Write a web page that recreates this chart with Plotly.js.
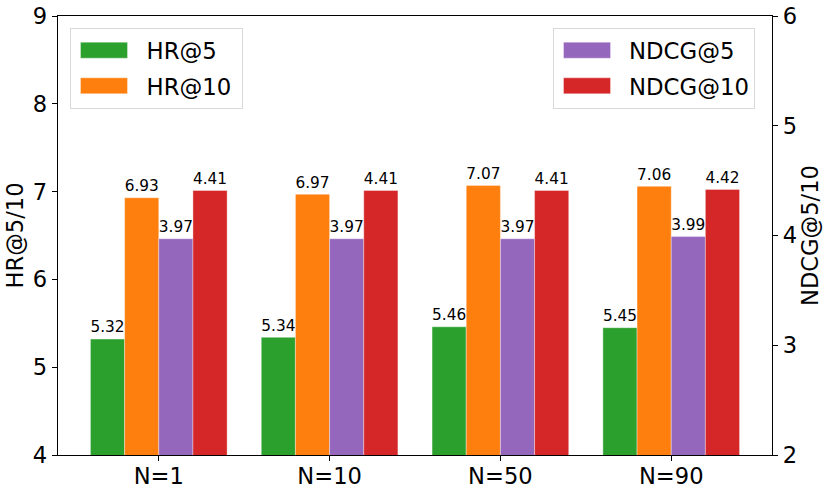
<!DOCTYPE html>
<html>
<head>
<meta charset="utf-8">
<script src="https://cdn.plot.ly/plotly-3.0.1.min.js"></script>
<style>html,body{margin:0;padding:0;background:#fff;}#chart{width:831px;height:495px;}</style>
</head>
<body>
<div id="chart"></div>
<script>
const categories = ["N=1", "N=10", "N=50", "N=90"];
const hr5 = [5.32, 5.34, 5.46, 5.45];
const hr10 = [6.93, 6.97, 7.07, 7.06];
const ndcg5 = [3.97, 3.97, 3.97, 3.99];
const ndcg10 = [4.41, 4.41, 4.41, 4.42];
const leftTicks = [4, 5, 6, 7, 8, 9];
const rightTicks = [2, 3, 4, 5, 6];

const xIdx = categories.map((_, i) => i);
const FONT = "DejaVu Sans, sans-serif";

function mk(name, vals, color, offset, yaxis, legend) {
  return {
    type: "bar", name: name, x: xIdx, y: vals, yaxis: yaxis, legend: legend,
    legendgroup: name,
    width: 0.2, offset: offset,
    marker: {color: color, line: {color: "rgba(255,255,255,0.6)", width: 0.6}},
    text: vals.map(v => v.toFixed(2)), textposition: "outside",
    textfont: {family: FONT, size: 17, color: "#000"}, cliponaxis: false,
    hoverinfo: "skip"
  };
}

const data = [
  mk("HR@5", hr5, "#2ca02c", -0.4, "y", "legend"),
  mk("HR@10", hr10, "#ff7f0e", -0.2, "y", "legend"),
  mk("NDCG@5", ndcg5, "#9467bd", 0.0, "y2", "legend2"),
  mk("NDCG@10", ndcg10, "#d62728", 0.2, "y2", "legend2")
];

const legendBase = {
  bgcolor: "rgba(255,255,255,0.8)", bordercolor: "#d9d9d9", borderwidth: 1,
  font: {family: FONT, size: 22.8, color: "#000"}, itemwidth: 65,
  tracegroupgap: 3, yanchor: "top", xanchor: "left"
};

const axisFont = {family: FONT, size: 22.6, color: "#000"};

const layout = {
  width: 831, height: 495,
  margin: {l: 58, r: 59, t: 16, b: 40},
  paper_bgcolor: "#fff", plot_bgcolor: "#fff",
  barmode: "overlay", showlegend: true,
  font: {family: FONT, color: "#000"},
  xaxis: {
    range: [-0.59, 3.59], tickmode: "array", tickvals: xIdx, ticktext: categories,
    showline: true, linecolor: "#000", linewidth: 1.3, mirror: true,
    ticks: "outside", ticklen: 5, tickcolor: "#000", showgrid: false, zeroline: false,
    tickfont: axisFont, ticklabelstandoff: -4
  },
  yaxis: {
    range: [4, 9], tickmode: "array", tickvals: leftTicks,
    showline: true, linecolor: "#000", linewidth: 1.3,
    ticks: "outside", ticklen: 5, tickcolor: "#000", showgrid: false, zeroline: false,
    tickfont: axisFont,
    title: {text: "HR@5/10", font: axisFont, standoff: 3}
  },
  yaxis2: {
    range: [2, 6], tickmode: "array", tickvals: rightTicks, overlaying: "y", side: "right",
    showline: true, linecolor: "#000", linewidth: 1.3,
    ticks: "outside", ticklen: 5, tickcolor: "#000", showgrid: false, zeroline: false,
    tickfont: axisFont,
    title: {text: "NDCG@5/10", font: axisFont, standoff: 3}
  },
  legend: Object.assign({}, legendBase, {x: 0.0168, y: 0.973}),
  legend2: Object.assign({}, legendBase, {x: 0.6933, y: 0.973})
};

Plotly.newPlot("chart", data, layout, {staticPlot: true, displayModeBar: false}).then(() => {
  // matplotlib-style wide legend patches and box sizing
  ["legend", "legend2"].forEach(id => {
    const lg = document.querySelector("g." + id);
    if (!lg) return;
    const bg = lg.querySelector("rect.bg");
    if (!bg) return;
    const bgBox = bg.getBoundingClientRect();
    let maxRight = 0;
    lg.querySelectorAll("g.traces").forEach(tr => {
      const path = tr.querySelector(".legendpoints path");
      if (path) {
        path.setAttribute("d", "M-23.5,8H23.5V-8H-23.5Z");
        const pb = path.getBoundingClientRect();
        const cx = (pb.left + pb.right) / 2;
        const dx = bgBox.left + 33.5 - cx;
        const old = path.getAttribute("transform") || "";
        path.setAttribute("transform", old + " translate(" + dx + ",0)");
      }
      const txt = tr.querySelector("text.legendtext");
      if (txt) {
        const tb = txt.getBoundingClientRect();
        const dx = bgBox.left + 76 - tb.left;
        const old = txt.getAttribute("transform") || "";
        txt.setAttribute("transform", old + " translate(" + dx + ",0)");
        const nb = txt.getBoundingClientRect();
        maxRight = Math.max(maxRight, nb.right);
      }
    });
    if (maxRight > 0) {
      const newW = maxRight + 11 - bgBox.left;
      bg.setAttribute("width", newW);
      const sb = lg.querySelector(".scrollbox");
      const cp = sb && sb.getAttribute("clip-path");
      const m = cp && cp.match(/#([^)"']+)/);
      if (m) {
        const r = document.getElementById(m[1]);
        const rr = r && r.querySelector("rect");
        if (rr) rr.setAttribute("width", newW + 20);
      }
    }
  });
});
</script>
</body>
</html>
